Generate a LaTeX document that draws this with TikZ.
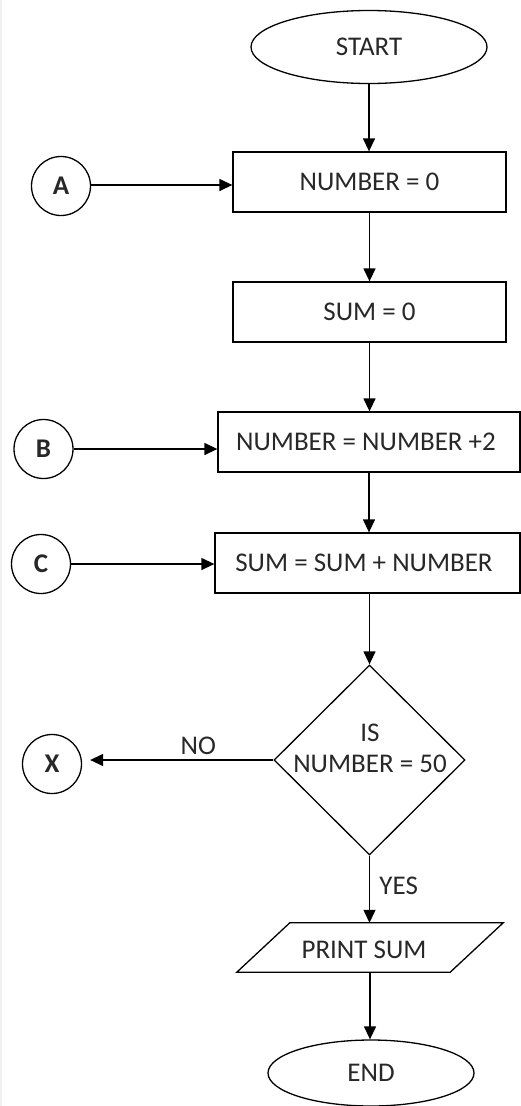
\documentclass[tikz,border=0pt]{standalone}
\usepackage{fontspec}
\setmainfont{Carlito}
\usetikzlibrary{shapes.geometric,arrows.meta}
\definecolor{txt}{RGB}{40,40,40}
\tikzset{
  every node/.style={font=\fontsize{27}{32}\selectfont, text=txt},
  line/.style={line width=1.3pt, draw=black},
  arr/.style={line, -{Triangle[length=13pt,width=12pt]}},
  term/.style={ellipse, draw, line width=1.3pt, inner sep=0pt},
  procbox/.style={rectangle, draw, line width=1.3pt, inner sep=0pt},
  conn/.style={circle, draw, line width=1.3pt, inner sep=0pt, minimum size=59pt, font=\fontsize{27}{32}\selectfont\bfseries},
}
\begin{document}
\begin{tikzpicture}[x=1pt,y=-1pt]
\useasboundingbox (0,0) rectangle (521,1106);
\draw[gray!12, line width=1.5pt] (1,0) -- (1,1106);

\node[term, minimum width=236pt, minimum height=73pt] (start) at (369,47) {START};
\node[procbox, minimum width=273pt, minimum height=60pt] (n0) at (369.5,182) {NUMBER = 0};
\node[procbox, minimum width=273pt, minimum height=60pt] (n1) at (369.5,312) {SUM = 0};
\node[procbox, minimum width=302pt, minimum height=60pt] (n2) at (369,442) {};
\node (n2t) at (366,442) {NUMBER = NUMBER +2};
\node[procbox, minimum width=305pt, minimum height=60pt] (n3) at (367.5,563) {};
\node (n3t) at (364,563) {SUM = SUM + NUMBER};
\node[diamond, draw, line width=1.3pt, inner sep=0pt, minimum width=191pt, minimum height=190pt] (d) at (369.5,760) {};
\node[align=center] (dt) at (370,748) {IS\\[-1pt]NUMBER = 50};
\node[minimum width=213pt, minimum height=49pt, inner sep=0pt] (print) at (370,947.5) {};
\node (printt) at (364,950) {PRINT SUM};
\draw[line, line join=miter] ([xshift=26.5pt]print.north west) -- ([xshift=26.5pt]print.north east)
   -- ([xshift=-26.5pt]print.south east) -- ([xshift=-26.5pt]print.south west) -- cycle;
\node[term, minimum width=206pt, minimum height=66pt] (end) at (371,1073) {END};

\node[conn] (A) at (61,186) {A};
\node[conn] (B) at (43.5,449) {B};
\node[conn] (C) at (41,564) {C};
\node[conn] (X) at (52,764) {X};

\draw[arr] (start.south) -- (start.south |- n0.north);
\draw[arr] (n0.south) -- (n1.north);
\draw[arr] (n1.south) -- (n1.south |- n2.north);
\draw[arr] (n2.south) -- (n2.south |- n3.north);
\draw[arr] (n3.south -| d.north) -- (d.north);
\draw[arr] (d.south) -- (d.south |- print.north) node[pos=0.45, right=6pt] (yes) {YES};
\draw[arr] (print.south) -- (print.south |- end.north);

\draw[arr] (A.east |- 0,185) -- (n0.west |- 0,185);
\draw[arr] (B.east) -- (B.east -| n2.west);
\draw[arr] (C.east) -- (C.east -| n3.west);
\draw[arr] (d.west) -- ([xshift=8pt]X.east |- d.west) node[pos=0.41, above=1pt] (no) {NO};
\end{tikzpicture}
\end{document}
